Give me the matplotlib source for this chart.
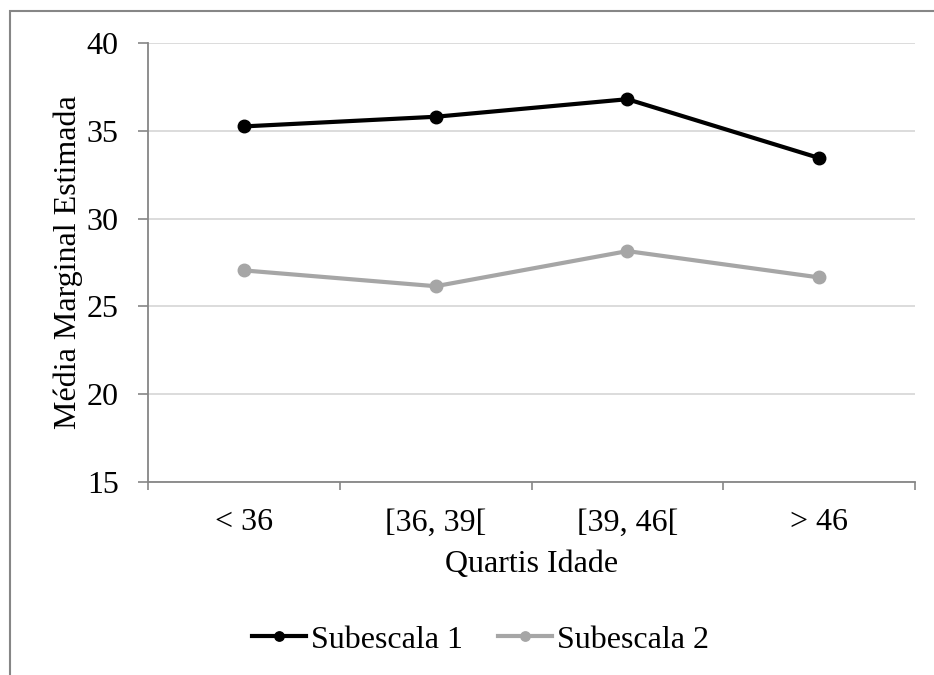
import matplotlib.pyplot as plt
import matplotlib.patches as patches

plt.rcParams['font.family'] = ['Liberation Serif', 'DejaVu Serif']

# Estimated marginal means by age quartile
categorias = ['< 36', '[36, 39[', '[39, 46[', '> 46']
subescala_1 = [35.25, 35.8, 36.8, 33.45]
subescala_2 = [27.05, 26.15, 28.15, 26.65]

fig = plt.figure(figsize=(9.34, 6.75), dpi=100)
ax = fig.add_axes([0.1585, 0.2859, 0.8212, 0.6504])

# chart border (Excel-style frame)
fig.patches.append(patches.Rectangle((10 / 934, -0.2), 1.5, 1.2 - 11 / 675,
                                     transform=fig.transFigure, fill=False,
                                     edgecolor='#868686', linewidth=1.5))

x = range(len(categorias))
ax.plot(x, subescala_1, color='black', linewidth=3, marker='o', markersize=9,
        label='Subescala 1', zorder=3)
ax.plot(x, subescala_2, color='#a6a6a6', linewidth=3, marker='o', markersize=9,
        label='Subescala 2', zorder=3)

ax.set_xlim(-0.5, 3.5)
ax.set_ylim(15, 40)
ax.set_yticks([15, 20, 25, 30, 35, 40])
ax.set_xticks(list(x))
ax.set_xticklabels(categorias)
ax.set_xticks([-0.5, 0.5, 1.5, 2.5, 3.5], minor=True)
ax.tick_params(axis='x', which='major', length=0, labelsize=23, pad=19)
ax.tick_params(axis='x', which='minor', length=6, width=1.2, color='#868686', direction='out')
ax.tick_params(axis='y', length=7, width=1.2, color='#868686', labelsize=23, pad=14)

ax.grid(axis='y', color='#d9d9d9', linewidth=1.3)
ax.set_axisbelow(True)
for s in ['top', 'right']:
    ax.spines[s].set_visible(False)
for s in ['left', 'bottom']:
    ax.spines[s].set_color('#868686')
    ax.spines[s].set_linewidth(1.3)

ax.set_xlabel('Quartis Idade', fontsize=23, labelpad=9)
ax.set_ylabel('Média Marginal Estimada', fontsize=23, labelpad=3)

fig.legend(loc='center', bbox_to_anchor=(0.5145, 0.052), ncol=2, frameon=False,
           fontsize=23, handlelength=1.7, handletextpad=0.15, columnspacing=1.1,
           markerscale=0.75)

fig.savefig('out.png', dpi=100)
